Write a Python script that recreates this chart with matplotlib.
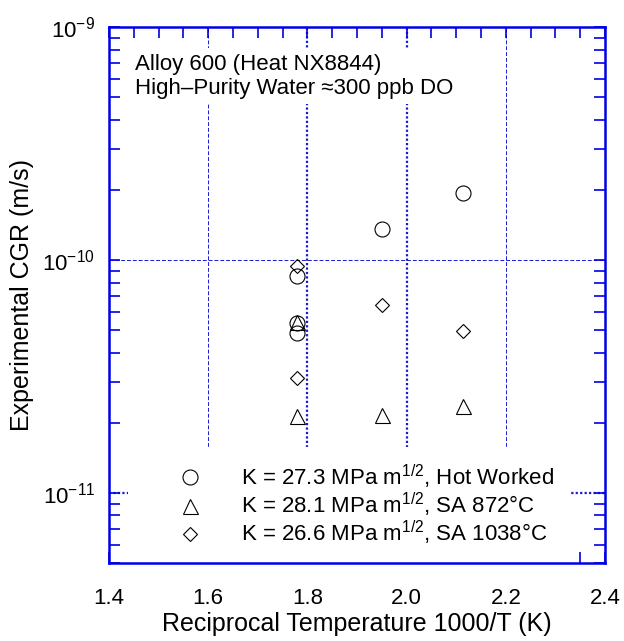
import matplotlib
matplotlib.use("Agg")
import matplotlib.pyplot as plt
from matplotlib.ticker import MultipleLocator, LogLocator, NullFormatter, FormatStrFormatter
from matplotlib.lines import Line2D

plt.rcParams['font.family'] = ['Liberation Sans', 'DejaVu Sans']
plt.rcParams['mathtext.fontset'] = 'custom'
plt.rcParams['mathtext.rm'] = 'Liberation Sans'
plt.rcParams['mathtext.it'] = 'Liberation Sans:italic'
plt.rcParams['mathtext.bf'] = 'Liberation Sans:bold'

# Data (1000/T, CGR m/s)
hw_x = [1.78, 1.78, 1.78, 1.95, 2.114]
hw_y = [8.5e-11, 5.35e-11, 4.85e-11, 1.36e-10, 1.94e-10]
sa872_x = [1.78, 1.78, 1.95, 2.114]
sa872_y = [5.4e-11, 2.14e-11, 2.16e-11, 2.36e-11]
sa1038_x = [1.78, 1.78, 1.95, 2.114]
sa1038_y = [9.4e-11, 3.12e-11, 6.4e-11, 4.96e-11]

labels = [r'K = 27.3 MPa m$^{1/2}$, Hot Worked',
          r'K = 28.1 MPa m$^{1/2}$, SA 872°C',
          r'K = 26.6 MPa m$^{1/2}$, SA 1038°C']
annot = "Alloy 600 (Heat NX8844)\nHigh\u2013Purity Water \u2248300 ppb DO"

BLUE = '#0000e6'
GRID = '#1a1ad0'

fig = plt.figure(figsize=(6.24, 6.41), dpi=100)
ax = fig.add_axes([0.1747, 0.1217, 0.9696 - 0.1747, 0.9579 - 0.1217])
ax.set_yscale('log')
ax.set_xlim(1.4, 2.4)
ax.set_ylim(5e-12, 1e-9)

ms_round = 10.8
kw = dict(linestyle='none', markerfacecolor='none', markeredgecolor='black',
          markeredgewidth=0.8, zorder=3)
ax.plot(hw_x, hw_y, marker='o', markersize=ms_round, **kw)
ax.plot(sa872_x, sa872_y, marker='^', markersize=ms_round, **kw)
ax.plot(sa1038_x, sa1038_y, marker='D', markersize=7.6, **kw)

ax.xaxis.set_major_locator(MultipleLocator(0.2))
ax.xaxis.set_minor_locator(MultipleLocator(0.05))
ax.yaxis.set_major_locator(LogLocator(base=10, numticks=10))
ax.yaxis.set_minor_locator(LogLocator(base=10, subs=range(2, 10), numticks=20))
ax.yaxis.set_minor_formatter(NullFormatter())
ax.xaxis.set_major_formatter(FormatStrFormatter('%.1f'))

ax.tick_params(which='both', direction='in', top=True, right=True, color=BLUE,
               width=1.2)
ax.tick_params(which='major', length=8, labelsize=16, pad=10)
ax.tick_params(axis='x', which='major', pad=18)
ax.tick_params(which='minor', length=8)

for s in ax.spines.values():
    s.set_color(BLUE)
    s.set_linewidth(1.8)

ax.grid(True, which='major', color=GRID, linestyle=(0, (4, 2)), linewidth=0.7, zorder=0)
for gl, loc in zip(ax.get_xgridlines(), ax.get_xticks()):
    if abs(loc - 1.8) < 1e-6 or abs(loc - 2.0) < 1e-6:
        gl.set_linewidth(1.6)
        gl.set_linestyle((0, (1, 1)))
for gl, loc in zip(ax.get_ygridlines(), ax.get_yticks()):
    if abs(loc - 1e-11) < 1e-15:
        gl.set_linewidth(1.6)
        gl.set_linestyle((0, (1, 1)))
ax.set_axisbelow(True)

ax.set_xlabel('Reciprocal Temperature 1000/T (K)', fontsize=18, labelpad=2)
ax.set_ylabel('Experimental CGR (m/s)', fontsize=18, labelpad=6)

ax.text(0.052, 0.95, annot, transform=ax.transAxes, fontsize=16, va='top', ha='left',
        linespacing=1.19, zorder=2,
        bbox=dict(boxstyle='square,pad=0.25', facecolor='white', edgecolor='none'))

handles = [Line2D([], [], marker='o', markersize=ms_round, **kw),
           Line2D([], [], marker='^', markersize=ms_round, **kw),
           Line2D([], [], marker='D', markersize=7.6, **kw)]
leg = ax.legend(handles, labels, loc='lower left', bbox_to_anchor=(0.038, 0.0),
                fontsize=16, frameon=True, fancybox=False, framealpha=1.0,
                edgecolor='none', facecolor='white', borderpad=0.7,
                handlelength=4.19, handletextpad=0.18, labelspacing=0.0,
                borderaxespad=0.0)
leg.set_zorder(2)

fig.savefig('out.png', dpi=100)
